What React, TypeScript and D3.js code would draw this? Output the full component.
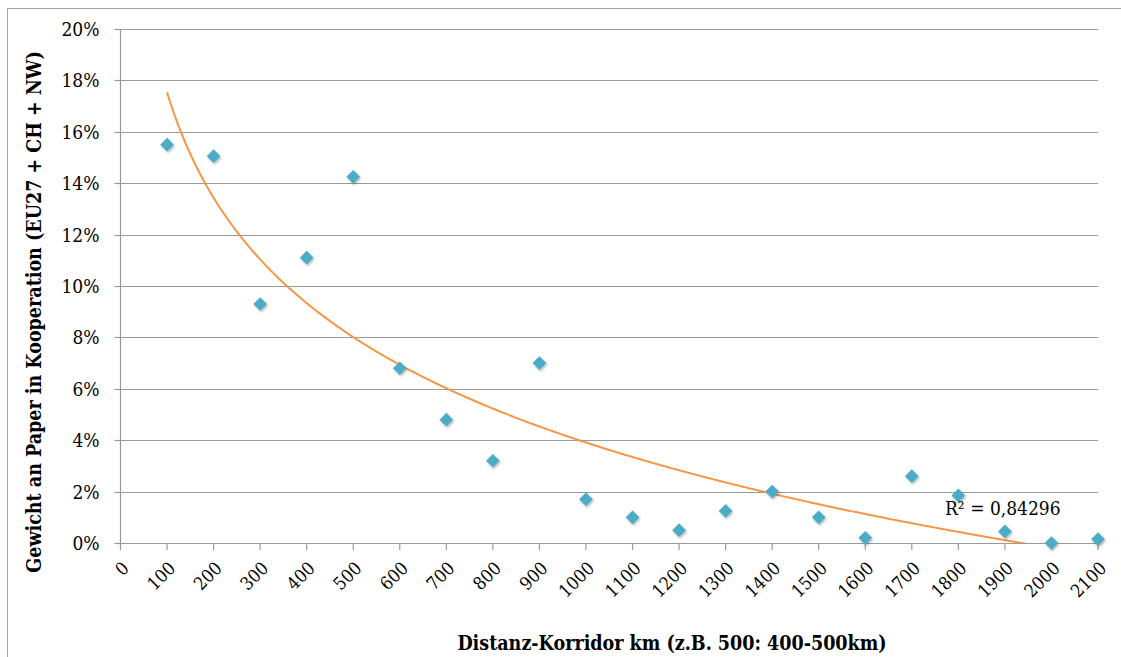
import React from "react";
import * as d3 from "d3";

// Distance corridors (km) and share of co-authored papers
const distances = [100, 200, 300, 400, 500, 600, 700, 800, 900, 1000, 1100, 1200, 1300, 1400, 1500, 1600, 1700, 1800, 1900, 2000, 2100];
const shares = [0.155, 0.1505, 0.093, 0.111, 0.1425, 0.068, 0.048, 0.032, 0.070, 0.017, 0.010, 0.005, 0.0125, 0.020, 0.010, 0.002, 0.026, 0.0185, 0.0045, 0.0, 0.0015];

const xTicks = d3.range(0, 2101, 100);
const yTicks = d3.range(0, 0.2001, 0.02);
const rSquaredLabel = "R² = 0,84296";
const xTitle = "Distanz-Korridor km (z.B. 500: 400-500km)";
const yTitle = "Gewicht an Paper in Kooperation (EU27 + CH + NW)";

const W = 1121;
const H = 657;
const plot = { left: 120.5, right: 1098, top: 29, bottom: 543 };
const FONT = "'DejaVu Serif Condensed', 'DejaVu Serif', serif";

// Logarithmic least-squares fit y = a * ln(x) + b
function logFit(xs: number[], ys: number[]) {
  const lx = xs.map((v) => Math.log(v));
  const mx = d3.mean(lx)!;
  const my = d3.mean(ys)!;
  let sxy = 0;
  let sxx = 0;
  lx.forEach((v, i) => {
    sxy += (v - mx) * (ys[i] - my);
    sxx += (v - mx) * (v - mx);
  });
  const a = sxy / sxx;
  const b = my - a * mx;
  return (x: number) => a * Math.log(x) + b;
}

export default function App() {
  const x = d3.scaleLinear().domain([0, 2100]).range([plot.left, plot.right]);
  const y = d3.scaleLinear().domain([0, 0.2]).range([plot.bottom, plot.top]);
  const fit = logFit(distances, shares);
  const trendX = d3.range(100, 2100.1, 5);
  const trendPath = d3
    .line<number>()
    .x((d) => x(d))
    .y((d) => y(fit(d)))(trendX);
  const diamond = d3.symbol(d3.symbolDiamond2, 120)()!;
  const pct = d3.format(".0%");

  return (
    <svg width={W} height={H} style={{ display: "block", position: "absolute", left: 0, top: 0 }}>
      <defs>
        <clipPath id="plotClip">
          <rect x={plot.left} y={plot.top} width={plot.right - plot.left} height={plot.bottom - plot.top} />
        </clipPath>
        <filter id="markerShadow" x="-50%" y="-50%" width="200%" height="200%">
          <feGaussianBlur in="SourceGraphic" stdDeviation="0.5" result="soft" />
          <feDropShadow in="soft" dx="1" dy="1.5" stdDeviation="1.2" floodColor="#000" floodOpacity="0.3" />
        </filter>
      </defs>
      <rect x={0} y={0} width={W} height={H} fill="#fff" />
      <rect x={7.5} y={8.5} width={W + 10} height={H + 10} fill="none" stroke="#a6a6a6" strokeWidth={1} />

      {/* horizontal gridlines and y ticks */}
      {yTicks.map((t, i) => (
        <g key={"y" + i}>
          <line x1={plot.left} x2={plot.right} y1={Math.round(y(t)) + 0.5} y2={Math.round(y(t)) + 0.5} stroke="#9a9a9a" strokeWidth={1.2} />
          <line x1={plot.left - 6} x2={plot.left} y1={Math.round(y(t)) + 0.5} y2={Math.round(y(t)) + 0.5} stroke="#9a9a9a" strokeWidth={1.2} />
          <text x={plot.left - 21} y={y(t) + 7} textAnchor="end" fontFamily={FONT} fontSize={19} fill="#000">
            {pct(t)}
          </text>
        </g>
      ))}

      {/* axes */}
      <line x1={plot.left} x2={plot.left} y1={plot.top} y2={plot.bottom} stroke="#9a9a9a" strokeWidth={1.2} />
      <line x1={plot.left} x2={plot.right} y1={plot.bottom + 0.5} y2={plot.bottom + 0.5} stroke="#9a9a9a" strokeWidth={1.2} />

      {/* x ticks and rotated labels */}
      {xTicks.map((t) => (
        <g key={"x" + t}>
          <line x1={x(t)} x2={x(t)} y1={plot.bottom} y2={plot.bottom + 7} stroke="#9a9a9a" strokeWidth={1.2} />
          <text
            transform={`translate(${x(t) + 5},${plot.bottom + 22}) rotate(-45)`}
            textAnchor="end"
            dy="0.35em"
            fontFamily={FONT}
            fontSize={18}
            fill="#000"
          >
            {t}
          </text>
        </g>
      ))}

      {/* logarithmic trendline */}
      <path d={trendPath!} fill="none" stroke="#f79646" strokeWidth={2} clipPath="url(#plotClip)" />

      {/* data markers */}
      {distances.map((d, i) => (
        <path
          key={"p" + d}
          d={diamond}
          transform={`translate(${x(d)},${y(shares[i])})`}
          fill="#4bacc6"
          filter="url(#markerShadow)"
        />
      ))}

      <text x={945} y={515} fontFamily={FONT} fontSize={19} fill="#000">
        {rSquaredLabel}
      </text>

      <text x={672} y={650} textAnchor="middle" fontFamily={FONT} fontWeight="bold" fontSize={19.5} fill="#000">
        {xTitle}
      </text>
      <text
        transform={`translate(41,${(plot.top + plot.bottom) / 2 + 26}) rotate(-90)`}
        textAnchor="middle"
        fontFamily={FONT}
        fontWeight="bold"
        fontSize={19.5}
        fill="#000"
      >
        {yTitle}
      </text>
    </svg>
  );
}
